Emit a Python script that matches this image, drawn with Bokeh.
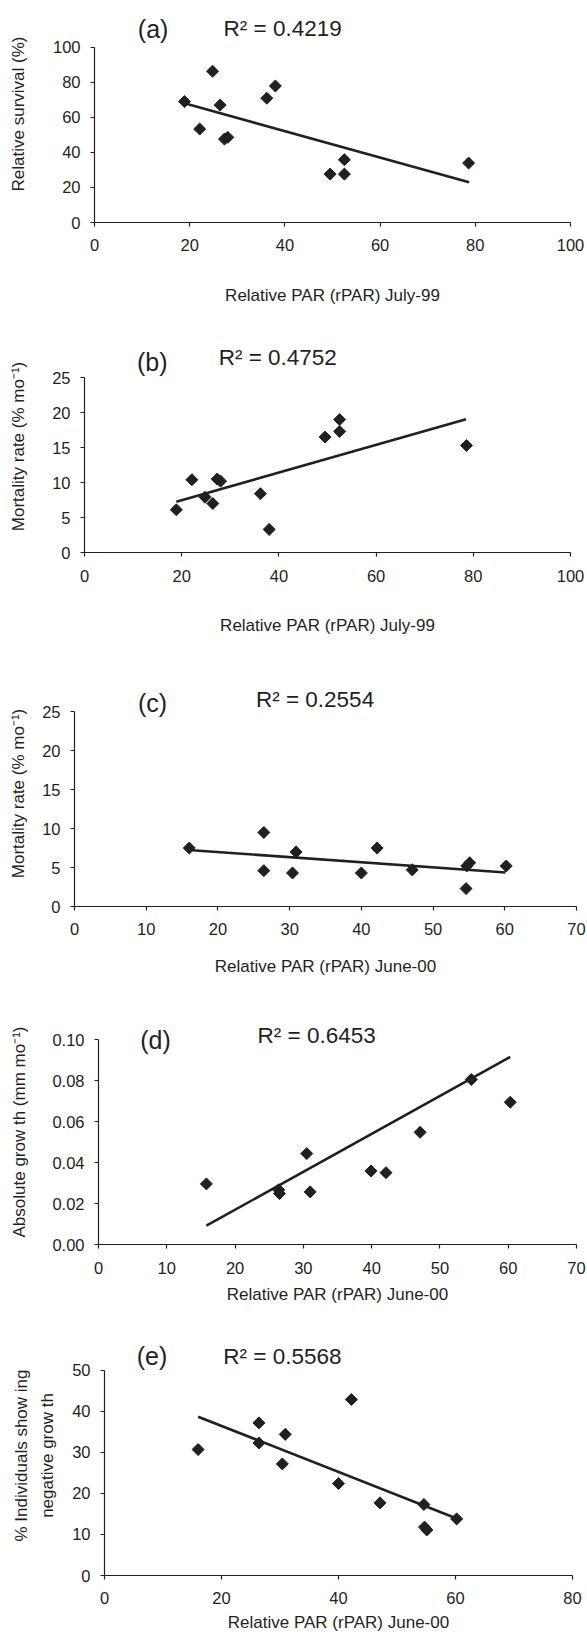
from bokeh.plotting import figure
from bokeh.layouts import column
from bokeh.models import Range1d, SingleIntervalTicker, NumeralTickFormatter, Label
from bokeh.embed import file_html
from bokeh.resources import INLINE

# ---------------- data ----------------
x_july99 = [18.9, 22.1, 24.8, 26.4, 27.3, 28.0, 36.2, 38.0, 49.5, 52.5, 52.5, 78.6]
survival_a = [69.0, 53.3, 86.3, 67.0, 47.6, 48.6, 70.9, 77.9, 27.6, 35.8, 27.6, 33.9]
mortality_b = [6.1, 10.4, 7.9, 7.0, 10.5, 10.2, 8.4, 3.3, 16.5, 17.3, 19.0, 15.3]

x_june00 = [16.0, 26.4, 26.4, 30.4, 30.9, 40.0, 42.2, 47.1, 54.6, 54.7, 55.1, 60.2]
mortality_c = [7.5, 9.5, 4.6, 4.3, 7.0, 4.3, 7.5, 4.7, 2.3, 5.2, 5.6, 5.2]
negative_e = [30.7, 37.2, 32.3, 27.2, 34.4, 22.4, 42.9, 17.7, 17.3, 11.8, 11.1, 13.8]

x_d = [15.8, 26.4, 26.5, 30.5, 31.0, 39.9, 42.1, 47.1, 54.6, 60.3]
growth_d = [0.0296, 0.0267, 0.0249, 0.0444, 0.0257, 0.0359, 0.0351, 0.0548, 0.0806, 0.0695]

# fitted trend lines as drawn (end points)
trend_a_x, trend_a_y = [18.9, 78.7], [68.0, 22.9]
trend_b_x, trend_b_y = [18.9, 78.5], [7.24, 19.05]
trend_c_x, trend_c_y = [15.9, 60.1], [7.26, 4.36]
trend_d_x, trend_d_y = [15.8, 60.3], [0.0092, 0.0916]
trend_e_x, trend_e_y = [16.0, 60.2], [38.7, 13.9]

tags = ["(a)", "(b)", "(c)", "(d)", "(e)"]
r2_texts = ["R\u00b2 = 0.4219", "R\u00b2 = 0.4752", "R\u00b2 = 0.2554", "R\u00b2 = 0.6453", "R\u00b2 = 0.5568"]
xlabel_july = "Relative PAR (rPAR) July-99"
xlabel_june = "Relative PAR (rPAR) June-00"
ylabels = ["Relative survival (%)",
           "Mortality rate (% mo\u207b\u00b9)",
           "Mortality rate (% mo\u207b\u00b9)",
           "Absolute grow th (mm mo\u207b\u00b9)",
           "% Individuals show ing\nnegative grow th"]

INK = "#231f20"
FONT = "Liberation Sans"
W = 587


def panel(h, bl, bt, br, bb, xr, yr, ybounds, xint, yint, xs, ys, tx, ty, tag, r2,
          tag_xy, r2_xy, xlab, ylab, xl_std, xa_std, yl_std, ya_std, yfmt=None, ylh=1.2):
    p = figure(width=W, height=h, x_range=Range1d(*xr), y_range=Range1d(*yr),
               output_backend="svg", toolbar_location=None, title=None,
               min_border_left=bl, min_border_top=bt, min_border_right=br, min_border_bottom=bb)
    p.frame_align = False
    p.outline_line_color = None
    p.xgrid.visible = False
    p.ygrid.visible = False
    p.background_fill_color = "white"
    p.border_fill_color = "white"
    p.xaxis.ticker = SingleIntervalTicker(interval=xint, num_minor_ticks=0)
    p.yaxis.ticker = SingleIntervalTicker(interval=yint, num_minor_ticks=0)
    p.yaxis.bounds = ybounds
    if yfmt:
        p.yaxis.formatter = NumeralTickFormatter(format=yfmt)
    for ax in (p.xaxis[0], p.yaxis[0]):
        ax.axis_line_color = INK
        ax.axis_line_width = 1.2
        ax.major_tick_line_color = INK
        ax.major_tick_line_width = 1.2
        ax.major_tick_out = 4
        ax.major_tick_in = 0
        ax.minor_tick_line_color = None
        ax.major_label_text_font = FONT
        ax.major_label_text_font_size = "16.5px"
        ax.major_label_text_color = INK
        ax.axis_label_text_font = FONT
        ax.axis_label_text_font_size = "17px"
        ax.axis_label_text_font_style = "normal"
        ax.axis_label_text_color = INK
    p.xaxis.axis_label = xlab
    p.yaxis.axis_label = ylab
    p.yaxis.axis_label_text_line_height = ylh
    p.xaxis.major_label_standoff = xl_std
    p.xaxis.axis_label_standoff = xa_std
    p.yaxis.major_label_standoff = yl_std
    p.yaxis.axis_label_standoff = ya_std

    p.line(tx, ty, line_color=INK, line_width=2.6)
    p.scatter(xs, ys, marker="square", angle=0.785398, size=8.5,
              fill_color=INK, line_color=INK, line_width=1)

    p.add_layout(Label(x=tag_xy[0], y=tag_xy[1], text=tag, text_font=FONT,
                       text_font_size="25px", text_color=INK,
                       text_baseline="middle", text_align="left"))
    p.add_layout(Label(x=r2_xy[0], y=r2_xy[1], text=r2, text_font=FONT,
                       text_font_size="22.5px", text_color=INK,
                       text_baseline="middle", text_align="left"))
    return p


pa = panel(320, 94, 5, 17, 98, (0, 100), (0, 123.8), (0, 100), 20, 20, x_july99, survival_a,
           trend_a_x, trend_a_y, tags[0], r2_texts[0], (9.1, 110.5), (27.1, 110.8),
           xlabel_july, ylabels[0], 12, 32, 10, 22)
pb = panel(330, 84, 20, 17, 98, (0, 100), (0, 30.3), (0, 25), 20, 5, x_july99, mortality_b,
           trend_b_x, trend_b_y, tags[1], r2_texts[1], (10.8, 27.26), (27.6, 27.8),
           xlabel_july, ylabels[1], 13, 31, 10, 21)
pc = panel(332, 74, 30, 11, 76, (0, 70), (0, 29.0), (0, 25), 10, 5, x_june00, mortality_c,
           trend_c_x, trend_c_y, tags[2], r2_texts[2], (8.85, 26.16), (25.3, 26.6),
           xlabel_june, ylabels[2], 12, 19, 10, 11)
pd_ = panel(328, 98, 37, 11, 66, (0, 70), (0, 0.1099), (0, 0.10), 10, 0.02, x_d, growth_d,
            trend_d_x, trend_d_y, tags[3], r2_texts[3], (6.1, 0.0997), (23.3, 0.1021),
            xlabel_june, ylabels[3], 13, 8, 10, 20, yfmt="0.00")
pe = panel(326, 104, 25, 15, 61, (0, 80), (0, 58.5), (0, 50), 20, 10, x_june00, negative_e,
           trend_e_x, trend_e_y, tags[4], r2_texts[4], (5.5, 53.5), (20.3, 53.5),
           xlabel_june, ylabels[4], 12, 6, 10, 12, ylh=1.4)

layout = column(pa, pb, pc, pd_, pe, spacing=0)
open("out.html", "w").write(file_html(layout, INLINE))
